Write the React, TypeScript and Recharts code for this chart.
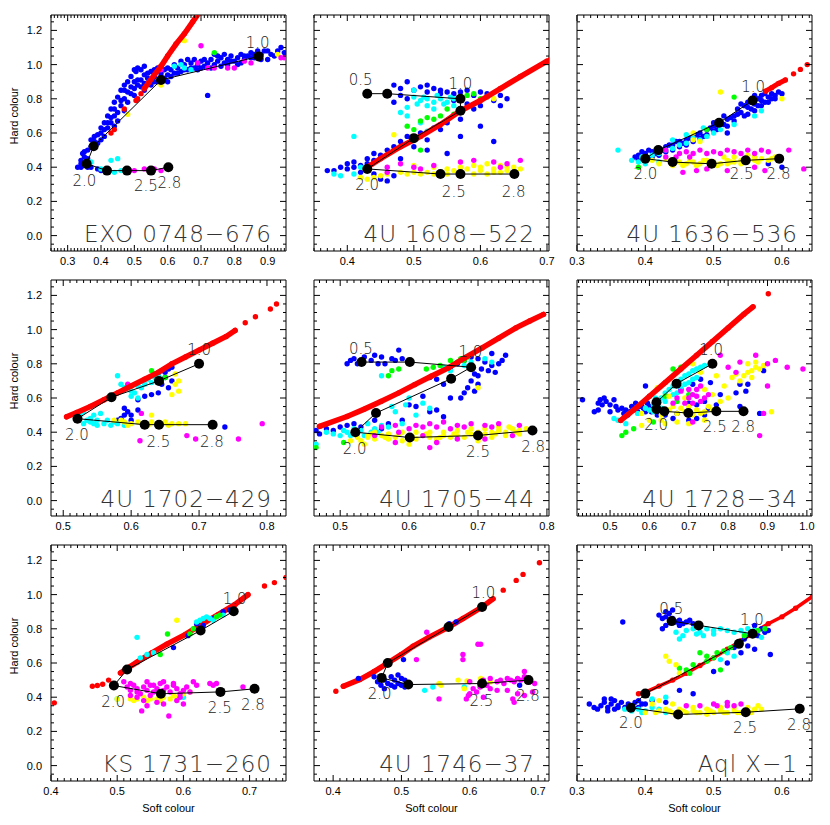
import React from 'react';
import { ScatterChart, Scatter, XAxis, YAxis, ReferenceArea } from 'recharts';

type Pt = { x: number; y: number; t?: string };
const pts = (a: number[][]): Pt[] => a.map(([x, y]) => ({ x, y }));
const tags = (a: [number, number, string][]): Pt[] => a.map(([x, y, t]) => ({ x, y, t }));

// ---- EXO 0748-676
const exoBlue = pts([[0.33,0.40],[0.34,0.40],[0.35,0.41],[0.36,0.40],[0.37,0.40],[0.34,0.44],[0.35,0.46],[0.36,0.45],[0.345,0.48],[0.36,0.50],[0.37,0.52],[0.38,0.55],[0.39,0.54],[0.40,0.56],[0.39,0.59],[0.40,0.60],[0.41,0.62],[0.42,0.63],[0.41,0.66],[0.43,0.66],[0.42,0.70],[0.44,0.70],[0.43,0.74],[0.45,0.72],[0.44,0.78],[0.46,0.76],[0.45,0.81],[0.47,0.80],[0.46,0.85],[0.48,0.84],[0.47,0.88],[0.49,0.87],[0.50,0.86],[0.48,0.90],[0.50,0.90],[0.51,0.88],[0.52,0.91],[0.50,0.97],[0.51,0.98],[0.52,0.97],[0.53,0.99],[0.55,0.88],[0.53,0.85],[0.54,0.92],[0.56,0.93],[0.57,0.90],[0.58,0.95],[0.59,0.92],[0.60,0.94],[0.61,0.97],[0.62,0.95],[0.63,0.98],[0.64,0.96],[0.65,1.00],[0.66,0.97],[0.67,1.01],[0.68,0.98],[0.69,1.00],[0.70,1.02],[0.71,0.99],[0.72,1.01],[0.73,1.03],[0.74,1.00],[0.75,1.02],[0.76,1.04],[0.77,1.01],[0.78,1.03],[0.79,1.05],[0.80,1.02],[0.81,1.04],[0.82,1.06],[0.83,1.03],[0.84,1.05],[0.85,1.07],[0.86,1.04],[0.88,1.06],[0.89,1.08],[0.91,1.06],[0.93,1.08],[0.94,1.10],[0.72,0.82],[0.60,0.90],[0.62,1.00],[0.66,1.03],[0.55,0.96],[0.57,0.98],[0.60,0.98],[0.68,1.03],[0.74,1.06],[0.78,1.00],[0.45,0.67],[0.41,0.58],[0.47,0.73],[0.39,0.39],[0.40,0.38],[0.36,0.43],[0.34,0.42],[0.53,0.94],[0.56,0.90],[0.64,1.02],[0.70,0.98],[0.76,0.99],[0.82,1.01],[0.87,1.08],[0.90,1.03],[0.54,0.95],[0.56,0.97],[0.58,0.93],[0.59,0.97],[0.61,0.93],[0.63,0.95],[0.65,0.97],[0.67,0.98],[0.69,0.97],[0.71,1.03],[0.73,0.98],[0.75,1.05],[0.77,1.06],[0.79,1.02],[0.81,1.00],[0.83,1.05],[0.85,1.04],[0.86,1.06],[0.88,1.03],[0.90,1.08],[0.92,1.05],[0.95,1.07],[0.47,0.85],[0.49,0.83],[0.51,0.91],[0.52,0.87],[0.53,0.89],[0.46,0.79],[0.44,0.74],[0.43,0.69],[0.42,0.66],[0.40,0.63],[0.38,0.58],[0.37,0.56],[0.35,0.49],[0.44,0.64],[0.48,0.78],[0.50,0.82],[0.49,0.93],[0.505,0.96]]);
const exoCyan = pts([[0.37,0.43],[0.40,0.39],[0.43,0.44],[0.45,0.45],[0.44,0.37],[0.46,0.38],[0.48,0.37],[0.62,0.99],[0.65,0.98],[0.67,0.97],[0.64,1.00]]);
const exoGreen = pts([[0.74,1.07]]);
const exoYellow = pts([[0.65,1.14],[0.58,0.88],[0.48,0.71],[0.93,1.06]]);
const exoMagenta = pts([[0.58,0.97],[0.70,1.11],[0.69,1.01],[0.72,0.98],[0.74,0.98],[0.78,0.98],[0.83,1.02],[0.85,1.01],[0.94,1.04],[0.95,1.04],[0.53,0.39],[0.56,0.39],[0.58,0.38],[0.50,0.38],[0.80,0.98],[0.87,1.05]]);
const exoRedTrack = pts([[0.53,0.86],[0.545,0.90],[0.56,0.94],[0.58,0.99],[0.60,1.05],[0.625,1.12],[0.65,1.18],[0.675,1.25],[0.70,1.32]]);
const exoRedDots = pts([[0.505,0.79],[0.51,0.80],[0.47,0.74],[0.44,0.62],[0.43,0.60],[0.52,0.83]]);
const exoTrack = pts([[0.873,1.048],[0.58,0.91],[0.378,0.523],[0.357,0.42],[0.418,0.38],[0.478,0.38],[0.55,0.38],[0.602,0.40]]);
const exoTags = tags([[0.87,1.13,'1.0'],[0.35,0.32,'2.0'],[0.535,0.29,'2.5'],[0.605,0.31,'2.8']]);

// ---- 4U 1608-522
const u1608Blue = pts([[0.47,0.88],[0.48,0.86],[0.49,0.90],[0.50,0.85],[0.51,0.87],[0.52,0.84],[0.53,0.86],[0.54,0.85],[0.48,0.82],[0.49,0.80],[0.47,0.78],[0.55,0.84],[0.56,0.83],[0.58,0.85],[0.59,0.82],[0.60,0.84],[0.61,0.81],[0.62,0.79],[0.63,0.76],[0.56,0.79],[0.58,0.77],[0.59,0.74],[0.60,0.76],[0.57,0.68],[0.55,0.66],[0.53,0.63],[0.51,0.60],[0.49,0.58],[0.48,0.55],[0.47,0.52],[0.46,0.50],[0.45,0.47],[0.44,0.44],[0.43,0.42],[0.42,0.41],[0.41,0.40],[0.40,0.39],[0.39,0.40],[0.38,0.38],[0.37,0.38],[0.42,0.37],[0.44,0.36],[0.45,0.33],[0.46,0.32],[0.47,0.35],[0.48,0.45],[0.50,0.52],[0.52,0.56],[0.54,0.62],[0.62,0.55],[0.60,0.64],[0.57,0.58],[0.55,0.48],[0.52,0.50],[0.44,0.48],[0.43,0.45],[0.41,0.43],[0.40,0.42],[0.63,0.82],[0.64,0.80],[0.52,0.88],[0.54,0.83],[0.57,0.84],[0.61,0.83]]);
const u1608Cyan = pts([[0.50,0.81],[0.51,0.79],[0.52,0.80],[0.53,0.78],[0.54,0.80],[0.55,0.78],[0.52,0.76],[0.53,0.74],[0.49,0.75],[0.48,0.72],[0.49,0.70],[0.545,0.77],[0.56,0.76],[0.51,0.66],[0.52,0.61],[0.41,0.58],[0.39,0.35],[0.38,0.36],[0.41,0.36],[0.43,0.38],[0.42,0.40],[0.56,0.80],[0.50,0.85],[0.505,0.77],[0.515,0.81],[0.535,0.82],[0.555,0.81]]);
const u1608Green = pts([[0.55,0.74],[0.56,0.71],[0.54,0.70],[0.53,0.68],[0.51,0.67],[0.52,0.69],[0.49,0.64],[0.50,0.62],[0.58,0.82],[0.59,0.83],[0.60,0.80],[0.51,0.50]]);
const u1608Yellow = pts([[0.42,0.34],[0.43,0.33],[0.44,0.34],[0.45,0.35],[0.46,0.36],[0.48,0.37],[0.50,0.37],[0.52,0.37],[0.54,0.37],[0.56,0.38],[0.58,0.39],[0.60,0.38],[0.62,0.39],[0.64,0.38],[0.66,0.39],[0.59,0.41],[0.61,0.42],[0.63,0.41],[0.65,0.40],[0.47,0.59],[0.50,0.41],[0.53,0.40],[0.55,0.39],[0.57,0.37],[0.59,0.36],[0.61,0.36],[0.63,0.37],[0.61,0.81],[0.62,0.80],[0.57,0.81],[0.49,0.36],[0.51,0.36],[0.53,0.36],[0.55,0.36],[0.57,0.40],[0.60,0.40],[0.62,0.37],[0.64,0.40]]);
const u1608Magenta = pts([[0.46,0.40],[0.48,0.42],[0.50,0.40],[0.51,0.39],[0.53,0.41],[0.57,0.43],[0.59,0.44],[0.62,0.43],[0.64,0.42],[0.66,0.44],[0.63,0.40],[0.46,0.37]]);
const u1608RedTrack = pts([[0.43,0.40],[0.45,0.45],[0.48,0.52],[0.51,0.58],[0.54,0.65],[0.57,0.73],[0.60,0.79],[0.63,0.86],[0.66,0.93],[0.70,1.02]]);
const u1608RedDots = pts([[0.705,1.03]]);
const u1608Track = pts([[0.43,0.83],[0.46,0.83],[0.57,0.80],[0.57,0.73],[0.50,0.57],[0.43,0.39],[0.54,0.36],[0.57,0.36],[0.651,0.36]]);
const u1608Tags = tags([[0.42,0.91,'0.5'],[0.57,0.89,'1.0'],[0.43,0.30,'2.0'],[0.56,0.26,'2.5'],[0.65,0.26,'2.8']]);

// ---- 4U 1636-536
const u1636Blue = pts([[0.385,0.46],[0.39,0.47],[0.40,0.48],[0.41,0.49],[0.42,0.51],[0.43,0.52],[0.44,0.53],[0.45,0.55],[0.46,0.56],[0.47,0.58],[0.48,0.60],[0.49,0.62],[0.50,0.64],[0.51,0.66],[0.52,0.68],[0.53,0.70],[0.54,0.72],[0.55,0.75],[0.56,0.77],[0.57,0.79],[0.58,0.81],[0.575,0.83],[0.565,0.80],[0.555,0.78],[0.545,0.76],[0.53,0.67],[0.52,0.64],[0.515,0.70],[0.50,0.61],[0.535,0.74],[0.55,0.71],[0.56,0.73],[0.57,0.76],[0.58,0.78],[0.59,0.80],[0.585,0.83],[0.56,0.82],[0.54,0.77],[0.43,0.49],[0.45,0.52],[0.47,0.55],[0.42,0.47],[0.40,0.45],[0.39,0.44],[0.41,0.46],[0.44,0.50],[0.46,0.53],[0.48,0.57],[0.50,0.66],[0.49,0.59],[0.52,0.60],[0.58,0.42],[0.60,0.40],[0.395,0.49],[0.405,0.50],[0.415,0.48],[0.425,0.50],[0.435,0.53],[0.445,0.55],[0.455,0.54],[0.465,0.57],[0.475,0.59],[0.485,0.58],[0.495,0.63],[0.505,0.62],[0.515,0.65],[0.525,0.69],[0.535,0.71],[0.545,0.70],[0.555,0.74],[0.565,0.76],[0.575,0.78],[0.585,0.80],[0.59,0.82],[0.60,0.83],[0.595,0.84],[0.57,0.82],[0.55,0.78]]);
const u1636Cyan = pts([[0.36,0.50],[0.39,0.43],[0.40,0.42],[0.41,0.47],[0.42,0.48],[0.43,0.50],[0.44,0.51],[0.45,0.53],[0.46,0.54],[0.47,0.57],[0.48,0.56],[0.49,0.58],[0.50,0.60],[0.51,0.62],[0.44,0.56],[0.46,0.59],[0.485,0.63],[0.53,0.65],[0.56,0.70],[0.57,0.73],[0.38,0.44],[0.395,0.46],[0.42,0.43],[0.44,0.44]]);
const u1636Green = pts([[0.53,0.81],[0.49,0.62],[0.39,0.40]]);
const u1636Yellow = pts([[0.41,0.44],[0.42,0.42],[0.43,0.45],[0.44,0.44],[0.45,0.43],[0.46,0.42],[0.47,0.43],[0.48,0.42],[0.49,0.44],[0.50,0.43],[0.51,0.42],[0.52,0.44],[0.53,0.43],[0.54,0.44],[0.55,0.45],[0.56,0.44],[0.57,0.45],[0.58,0.44],[0.455,0.41],[0.475,0.41],[0.505,0.41],[0.53,0.46],[0.55,0.47],[0.47,0.60],[0.515,0.46],[0.47,0.56],[0.51,0.84],[0.60,0.80],[0.48,0.55],[0.44,0.41],[0.52,0.42],[0.54,0.42],[0.56,0.46],[0.585,0.45],[0.59,0.46],[0.595,0.44],[0.565,0.43],[0.545,0.43],[0.525,0.43],[0.495,0.42],[0.485,0.44],[0.465,0.44]]);
const u1636Magenta = pts([[0.43,0.50],[0.45,0.48],[0.46,0.49],[0.47,0.48],[0.48,0.50],[0.49,0.48],[0.50,0.49],[0.51,0.48],[0.52,0.50],[0.53,0.49],[0.54,0.48],[0.55,0.50],[0.56,0.48],[0.57,0.50],[0.58,0.49],[0.61,0.50],[0.455,0.37],[0.475,0.38],[0.49,0.39],[0.445,0.46],[0.52,0.38],[0.56,0.40],[0.575,0.38],[0.632,0.39],[0.43,0.46],[0.465,0.46]]);
const u1636RedTrack = pts([[0.576,0.845],[0.585,0.865],[0.595,0.89],[0.605,0.91]]);
const u1636RedDots = pts([[0.617,0.946],[0.627,0.972],[0.637,1.00]]);
const u1636Track = pts([[0.557,0.79],[0.508,0.66],[0.419,0.50],[0.40,0.45],[0.44,0.43],[0.497,0.42],[0.547,0.44],[0.596,0.45]]);
const u1636Tags = tags([[0.558,0.87,'1.0'],[0.40,0.36,'2.0'],[0.541,0.36,'2.5'],[0.595,0.36,'2.8']]);

// ---- 4U 1702-429
const u1702Blue = pts([[0.59,0.54],[0.595,0.52],[0.60,0.50],[0.61,0.53],[0.62,0.61],[0.63,0.62],[0.61,0.59],[0.64,0.74],[0.645,0.76],[0.65,0.75],[0.655,0.77],[0.66,0.78],[0.65,0.72],[0.66,0.70],[0.645,0.68],[0.655,0.66],[0.64,0.63],[0.59,0.50],[0.585,0.48],[0.58,0.47],[0.60,0.47],[0.738,0.43]]);
const u1702Cyan = pts([[0.525,0.50],[0.53,0.52],[0.535,0.47],[0.54,0.46],[0.545,0.45],[0.55,0.44],[0.56,0.45],[0.57,0.44],[0.58,0.45],[0.59,0.44],[0.53,0.45],[0.54,0.48],[0.55,0.47],[0.565,0.47],[0.575,0.46],[0.58,0.73],[0.585,0.68],[0.59,0.66],[0.60,0.64],[0.605,0.63],[0.61,0.67],[0.615,0.66],[0.62,0.68],[0.63,0.69],[0.625,0.71],[0.60,0.61],[0.61,0.60],[0.635,0.72],[0.64,0.73],[0.545,0.50],[0.555,0.51]]);
const u1702Green = pts([[0.63,0.76],[0.635,0.74],[0.65,0.72]]);
const u1702Yellow = pts([[0.585,0.47],[0.59,0.46],[0.60,0.45],[0.61,0.46],[0.62,0.45],[0.63,0.46],[0.64,0.45],[0.65,0.46],[0.66,0.45],[0.67,0.45],[0.68,0.45],[0.595,0.44],[0.625,0.44],[0.655,0.44],[0.63,0.50],[0.66,0.62],[0.67,0.64],[0.665,0.68],[0.67,0.70],[0.665,0.74],[0.575,0.47]]);
const u1702Magenta = pts([[0.595,0.68],[0.615,0.51],[0.613,0.35],[0.682,0.38],[0.695,0.36],[0.758,0.36],[0.793,0.45]]);
const u1702RedTrack = pts([[0.505,0.49],[0.52,0.515],[0.54,0.55],[0.56,0.59],[0.58,0.63],[0.60,0.67],[0.62,0.71],[0.64,0.75],[0.66,0.80],[0.68,0.84],[0.70,0.88],[0.72,0.92],[0.74,0.96],[0.753,0.995]]);
const u1702RedDots = pts([[0.768,1.04],[0.783,1.075],[0.805,1.12],[0.814,1.15]]);
const u1702Track = pts([[0.70,0.80],[0.641,0.70],[0.571,0.604],[0.521,0.479],[0.62,0.444],[0.641,0.444],[0.72,0.444]]);
const u1702Tags = tags([[0.70,0.883,'1.0'],[0.52,0.385,'2.0'],[0.64,0.346,'2.5'],[0.719,0.346,'2.8']]);

// ---- 4U 1705-44
const u1705Blue = pts([[0.51,0.80],[0.515,0.82],[0.52,0.83],[0.525,0.80],[0.535,0.84],[0.545,0.82],[0.55,0.85],[0.555,0.80],[0.56,0.84],[0.565,0.80],[0.575,0.83],[0.58,0.82],[0.585,0.88],[0.59,0.83],[0.67,0.80],[0.68,0.82],[0.69,0.84],[0.70,0.83],[0.71,0.81],[0.72,0.79],[0.73,0.80],[0.74,0.85],[0.715,0.76],[0.725,0.75],[0.705,0.77],[0.695,0.74],[0.69,0.70],[0.70,0.68],[0.685,0.66],[0.68,0.63],[0.695,0.64],[0.66,0.60],[0.675,0.60],[0.65,0.68],[0.64,0.71],[0.63,0.72],[0.62,0.61],[0.60,0.56],[0.61,0.55],[0.63,0.52],[0.64,0.53],[0.65,0.49],[0.59,0.47],[0.57,0.45],[0.52,0.45],[0.51,0.44],[0.50,0.43],[0.49,0.41],[0.48,0.42],[0.465,0.41],[0.47,0.39],[0.53,0.43],[0.55,0.47],[0.56,0.42],[0.66,0.78],[0.70,0.73],[0.72,0.86],[0.735,0.82]]);
const u1705Cyan = pts([[0.49,0.39],[0.50,0.38],[0.505,0.41],[0.51,0.40],[0.515,0.38],[0.52,0.42],[0.525,0.39],[0.53,0.41],[0.535,0.38],[0.545,0.40],[0.55,0.42],[0.555,0.40],[0.56,0.44],[0.57,0.43],[0.59,0.45],[0.61,0.50],[0.63,0.54],[0.62,0.57],[0.60,0.60],[0.595,0.56],[0.575,0.55],[0.56,0.73],[0.65,0.78],[0.66,0.76],[0.68,0.79],[0.69,0.81],[0.71,0.83],[0.72,0.81],[0.465,0.33],[0.48,0.40],[0.54,0.45],[0.58,0.52]]);
const u1705Green = pts([[0.57,0.73],[0.575,0.76],[0.585,0.77],[0.625,0.77],[0.635,0.78],[0.675,0.83],[0.685,0.84],[0.67,0.81],[0.68,0.82],[0.505,0.34],[0.465,0.31],[0.645,0.79],[0.66,0.82]]);
const u1705Yellow = pts([[0.525,0.37],[0.53,0.35],[0.54,0.38],[0.55,0.36],[0.56,0.38],[0.57,0.36],[0.58,0.37],[0.59,0.35],[0.60,0.38],[0.61,0.36],[0.62,0.38],[0.63,0.37],[0.64,0.36],[0.65,0.38],[0.66,0.37],[0.67,0.38],[0.68,0.37],[0.69,0.39],[0.70,0.40],[0.71,0.39],[0.72,0.40],[0.73,0.41],[0.74,0.40],[0.75,0.42],[0.76,0.41],[0.77,0.42],[0.55,0.40],[0.57,0.39],[0.59,0.40],[0.61,0.40],[0.63,0.40],[0.65,0.40],[0.67,0.41],[0.69,0.42],[0.71,0.42],[0.73,0.43],[0.745,0.43],[0.515,0.35],[0.535,0.33],[0.70,0.35],[0.72,0.37],[0.74,0.38],[0.76,0.39],[0.70,0.66],[0.54,0.37],[0.60,0.33],[0.545,0.39],[0.565,0.37],[0.585,0.39],[0.605,0.37],[0.625,0.39],[0.645,0.37],[0.665,0.39],[0.685,0.40],[0.705,0.38],[0.725,0.39],[0.755,0.40]]);
const u1705Magenta = pts([[0.56,0.43],[0.58,0.44],[0.60,0.42],[0.61,0.44],[0.62,0.43],[0.63,0.45],[0.64,0.43],[0.66,0.42],[0.67,0.44],[0.68,0.43],[0.69,0.45],[0.71,0.44],[0.72,0.43],[0.73,0.45],[0.65,0.46],[0.62,0.38],[0.64,0.34],[0.67,0.36],[0.71,0.36],[0.75,0.38],[0.76,0.44],[0.58,0.34],[0.63,0.31],[0.55,0.38],[0.585,0.40]]);
const u1705RedTrack = pts([[0.47,0.434],[0.51,0.492],[0.535,0.535],[0.559,0.58],[0.585,0.63],[0.608,0.678],[0.632,0.727],[0.657,0.776],[0.68,0.833],[0.706,0.893],[0.73,0.95],[0.755,1.01],[0.775,1.05],[0.795,1.089]]);
const u1705RedDots = pts([[0.809,1.13]]);
const u1705Track = pts([[0.531,0.81],[0.601,0.81],[0.69,0.78],[0.661,0.713],[0.552,0.512],[0.522,0.40],[0.601,0.369],[0.70,0.381],[0.779,0.41]]);
const u1705Tags = tags([[0.53,0.889,'0.5'],[0.689,0.874,'1.0'],[0.521,0.303,'2.0'],[0.70,0.287,'2.5'],[0.78,0.317,'2.8']]);

// ---- 4U 1728-34
const u1728Blue = pts([[0.43,0.59],[0.47,0.57],[0.475,0.59],[0.48,0.56],[0.485,0.60],[0.49,0.58],[0.50,0.56],[0.51,0.59],[0.515,0.55],[0.52,0.53],[0.53,0.54],[0.535,0.51],[0.54,0.53],[0.545,0.50],[0.55,0.52],[0.555,0.55],[0.56,0.54],[0.565,0.57],[0.57,0.52],[0.575,0.55],[0.58,0.56],[0.585,0.54],[0.59,0.52],[0.595,0.57],[0.60,0.55],[0.59,0.67],[0.46,0.52],[0.47,0.53],[0.50,0.52],[0.605,0.52],[0.62,0.50],[0.67,0.51],[0.66,0.48],[0.70,0.47],[0.72,0.48],[0.74,0.50],[0.70,0.57],[0.72,0.56],[0.74,0.58],[0.75,0.54],[0.77,0.56],[0.78,0.62],[0.82,0.63],[0.83,0.68],[0.845,0.64],[0.85,0.68],[0.89,0.76],[0.88,0.51],[0.83,0.55],[0.68,0.65],[0.71,0.68],[0.73,0.71],[0.755,0.69],[0.64,0.50]]);
const u1728Cyan = pts([[0.51,0.48],[0.52,0.47],[0.54,0.45],[0.57,0.51],[0.60,0.53],[0.61,0.56],[0.62,0.58],[0.63,0.60],[0.64,0.63],[0.65,0.65],[0.66,0.67],[0.67,0.69],[0.68,0.71],[0.69,0.73],[0.70,0.74],[0.71,0.76],[0.72,0.77],[0.73,0.78],[0.74,0.79],[0.64,0.58],[0.66,0.62],[0.68,0.66],[0.70,0.69],[0.72,0.72],[0.62,0.55],[0.61,0.52],[0.63,0.54],[0.67,0.63],[0.69,0.68],[0.71,0.71],[0.615,0.60],[0.59,0.54]]);
const u1728Green = pts([[0.53,0.38],[0.54,0.40],[0.56,0.42],[0.66,0.77],[0.68,0.78],[0.67,0.58],[0.64,0.61],[0.70,0.62],[0.61,0.46]]);
const u1728Yellow = pts([[0.58,0.44],[0.60,0.47],[0.63,0.50],[0.65,0.53],[0.66,0.55],[0.67,0.51],[0.68,0.54],[0.69,0.52],[0.70,0.55],[0.71,0.50],[0.72,0.53],[0.73,0.51],[0.74,0.52],[0.75,0.55],[0.76,0.53],[0.64,0.45],[0.67,0.46],[0.74,0.47],[0.78,0.58],[0.80,0.60],[0.79,0.67],[0.81,0.72],[0.82,0.74],[0.83,0.70],[0.84,0.73],[0.85,0.75],[0.86,0.76],[0.87,0.78],[0.88,0.77],[0.85,0.80],[0.87,0.81],[0.89,0.79],[0.86,0.72],[0.76,0.62],[0.74,0.65],[0.91,0.52],[0.73,0.75],[0.71,0.80],[0.77,0.73],[0.62,0.66],[0.65,0.61],[0.69,0.60],[0.58,0.51],[0.63,0.47],[0.70,0.45]]);
const u1728Magenta = pts([[0.78,0.85],[0.68,0.64],[0.70,0.60],[0.71,0.62],[0.72,0.61],[0.73,0.58],[0.74,0.60],[0.75,0.62],[0.71,0.57],[0.72,0.65],[0.73,0.67],[0.69,0.57],[0.70,0.65],[0.66,0.57],[0.67,0.60],[0.83,0.81],[0.87,0.85],[0.90,0.80],[0.92,0.82],[0.95,0.78],[0.99,0.77],[0.90,0.67],[0.88,0.38],[0.89,0.51],[0.71,0.46],[0.70,0.52],[0.80,0.78],[0.82,0.75]]);
const u1728RedTrack = pts([[0.527,0.469],[0.56,0.53],[0.60,0.61],[0.64,0.69],[0.68,0.77],[0.72,0.85],[0.76,0.93],[0.80,1.01],[0.84,1.09],[0.863,1.133]]);
const u1728RedDots = pts([[0.902,1.21]]);
const u1728Track = pts([[0.76,0.80],[0.669,0.684],[0.618,0.575],[0.618,0.535],[0.638,0.522],[0.699,0.512],[0.77,0.522],[0.839,0.522]]);
const u1728Tags = tags([[0.757,0.883,'1.0'],[0.617,0.444,'2.0'],[0.766,0.434,'2.5'],[0.838,0.434,'2.8']]);

// ---- KS 1731-260
const ks1731Blue = pts([[0.585,0.69],[0.607,0.76],[0.62,0.83],[0.63,0.82],[0.645,0.86],[0.66,0.90],[0.67,0.91]]);
const ks1731Cyan = pts([[0.53,0.75],[0.535,0.63],[0.545,0.65],[0.62,0.84],[0.625,0.85],[0.63,0.86],[0.635,0.87],[0.64,0.86],[0.645,0.85],[0.65,0.87],[0.66,0.88],[0.555,0.66],[0.60,0.40],[0.50,0.39]]);
const ks1731Green = pts([[0.576,0.77],[0.565,0.65],[0.61,0.77],[0.615,0.80],[0.65,0.87],[0.655,0.88]]);
const ks1731Yellow = pts([[0.59,0.85],[0.52,0.39],[0.53,0.39],[0.54,0.40],[0.55,0.39],[0.56,0.39],[0.57,0.40],[0.58,0.39],[0.59,0.40],[0.60,0.42],[0.61,0.43],[0.525,0.38],[0.545,0.38],[0.565,0.38],[0.585,0.41],[0.50,0.39]]);
const ks1731Magenta = pts([[0.51,0.49],[0.515,0.46],[0.52,0.44],[0.525,0.47],[0.53,0.45],[0.535,0.42],[0.54,0.46],[0.545,0.44],[0.55,0.47],[0.555,0.43],[0.56,0.45],[0.565,0.48],[0.57,0.44],[0.575,0.46],[0.58,0.43],[0.585,0.47],[0.59,0.45],[0.595,0.42],[0.60,0.44],[0.605,0.46],[0.61,0.43],[0.615,0.49],[0.52,0.41],[0.53,0.40],[0.54,0.38],[0.545,0.35],[0.537,0.32],[0.55,0.41],[0.56,0.37],[0.57,0.36],[0.578,0.29],[0.59,0.38],[0.60,0.36],[0.62,0.47],[0.64,0.48],[0.645,0.47],[0.65,0.48],[0.69,0.46],[0.52,0.48],[0.545,0.49],[0.57,0.49],[0.585,0.48],[0.595,0.40],[0.53,0.43],[0.555,0.47],[0.565,0.42]]);
const ks1731RedTrack = pts([[0.505,0.542],[0.5125,0.562],[0.53,0.605],[0.5525,0.66],[0.575,0.71],[0.6025,0.766],[0.625,0.82],[0.6525,0.883],[0.6775,0.941],[0.6975,0.999]]);
const ks1731RedDots = pts([[0.405,0.367],[0.4625,0.464],[0.47,0.468],[0.478,0.476],[0.487,0.50],[0.7225,1.05],[0.7375,1.07],[0.755,1.10]]);
const ks1731Track = pts([[0.676,0.903],[0.626,0.79],[0.515,0.562],[0.495,0.468],[0.566,0.42],[0.656,0.431],[0.7075,0.449]]);
const ks1731Tags = tags([[0.6775,0.976,'1.0'],[0.494,0.377,'2.0'],[0.655,0.338,'2.5'],[0.705,0.357,'2.8']]);

// ---- 4U 1746-37
const u1746Blue = pts([[0.437,0.51],[0.46,0.52],[0.465,0.49],[0.47,0.47],[0.475,0.50],[0.48,0.48],[0.485,0.52],[0.49,0.50],[0.495,0.53],[0.50,0.51],[0.505,0.50],[0.49,0.46],[0.495,0.48],[0.50,0.47],[0.505,0.46],[0.485,0.47],[0.475,0.45],[0.51,0.48],[0.503,0.62],[0.57,0.83],[0.58,0.84],[0.673,0.47]]);
const u1746Cyan = pts([[0.534,0.44],[0.546,0.46],[0.592,0.46]]);
const u1746Green = pts([]);
const u1746Yellow = pts([[0.555,0.48],[0.558,0.47],[0.583,0.50],[0.596,0.495],[0.616,0.51],[0.63,0.49],[0.592,0.45]]);
const u1746Magenta = pts([[0.537,0.78],[0.522,0.62],[0.555,0.39],[0.595,0.39],[0.60,0.42],[0.605,0.45],[0.61,0.43],[0.615,0.46],[0.60,0.49],[0.62,0.50],[0.625,0.47],[0.63,0.51],[0.64,0.49],[0.645,0.50],[0.65,0.48],[0.655,0.51],[0.66,0.50],[0.665,0.49],[0.67,0.51],[0.675,0.50],[0.68,0.52],[0.685,0.49],[0.695,0.48],[0.692,0.43],[0.68,0.55],[0.612,0.71],[0.616,0.71],[0.59,0.62],[0.59,0.65],[0.655,0.44],[0.663,0.39],[0.67,0.42],[0.68,0.41],[0.665,0.37],[0.598,0.41],[0.63,0.45],[0.64,0.44],[0.62,0.40]]);
const u1746RedTrack = pts([[0.415,0.464],[0.439,0.503],[0.46,0.55],[0.48,0.60],[0.50,0.65],[0.517,0.698],[0.54,0.75],[0.569,0.81],[0.59,0.86],[0.618,0.927],[0.634,0.975]]);
const u1746RedDots = pts([[0.404,0.435],[0.649,1.026],[0.668,1.083],[0.678,1.118],[0.702,1.186]]);
const u1746Track = pts([[0.618,0.927],[0.569,0.81],[0.48,0.60],[0.471,0.513],[0.51,0.474],[0.618,0.48],[0.686,0.50]]);
const u1746Tags = tags([[0.62,1.01,'1.0'],[0.468,0.421,'2.0'],[0.617,0.382,'2.5'],[0.685,0.412,'2.8']]);

// ---- Aql X-1
const aqlBlue = pts([[0.318,0.36],[0.33,0.33],[0.335,0.35],[0.34,0.37],[0.345,0.34],[0.35,0.36],[0.355,0.38],[0.36,0.35],[0.365,0.37],[0.37,0.34],[0.375,0.36],[0.38,0.35],[0.385,0.37],[0.39,0.34],[0.395,0.36],[0.34,0.39],[0.35,0.39],[0.36,0.34],[0.325,0.34],[0.345,0.32],[0.355,0.33],[0.39,0.38],[0.40,0.36],[0.41,0.38],[0.43,0.37],[0.42,0.88],[0.425,0.86],[0.43,0.87],[0.435,0.89],[0.44,0.86],[0.445,0.84],[0.45,0.85],[0.455,0.83],[0.46,0.84],[0.465,0.85],[0.47,0.83],[0.475,0.82],[0.43,0.82],[0.425,0.80],[0.45,0.82],[0.367,0.84],[0.43,0.90],[0.44,0.91],[0.56,0.82],[0.57,0.80],[0.58,0.79],[0.565,0.76],[0.545,0.74],[0.55,0.70],[0.56,0.68],[0.583,0.65],[0.54,0.66],[0.53,0.69],[0.50,0.55],[0.52,0.60],[0.45,0.44],[0.47,0.42],[0.575,0.78],[0.56,0.78]]);
const aqlCyan = pts([[0.46,0.79],[0.47,0.80],[0.48,0.78],[0.49,0.80],[0.50,0.79],[0.51,0.80],[0.52,0.79],[0.53,0.78],[0.54,0.79],[0.55,0.80],[0.56,0.79],[0.475,0.77],[0.485,0.76],[0.445,0.78],[0.455,0.76],[0.45,0.74],[0.53,0.64],[0.52,0.66],[0.51,0.62],[0.38,0.32],[0.39,0.33],[0.40,0.32],[0.41,0.34],[0.42,0.33],[0.37,0.33],[0.395,0.31],[0.43,0.31],[0.41,0.39],[0.43,0.40],[0.545,0.77],[0.57,0.75],[0.50,0.77]]);
const aqlGreen = pts([[0.48,0.66],[0.49,0.64],[0.50,0.63],[0.505,0.66],[0.515,0.67],[0.525,0.69],[0.535,0.72],[0.545,0.76],[0.555,0.78],[0.565,0.79],[0.575,0.80],[0.51,0.56],[0.465,0.54],[0.47,0.59],[0.49,0.61],[0.45,0.57],[0.46,0.56]]);
const aqlYellow = pts([[0.40,0.31],[0.42,0.32],[0.43,0.33],[0.44,0.31],[0.45,0.30],[0.46,0.31],[0.47,0.32],[0.48,0.31],[0.49,0.30],[0.50,0.31],[0.51,0.32],[0.52,0.31],[0.53,0.32],[0.54,0.31],[0.55,0.32],[0.56,0.33],[0.57,0.33],[0.45,0.33],[0.47,0.34],[0.49,0.33],[0.51,0.34],[0.53,0.34],[0.55,0.34],[0.565,0.35],[0.43,0.64],[0.435,0.61],[0.445,0.59],[0.44,0.36],[0.41,0.36],[0.45,0.54],[0.42,0.38],[0.415,0.31],[0.435,0.32],[0.455,0.32],[0.475,0.31],[0.495,0.32],[0.515,0.31],[0.535,0.31],[0.555,0.31]]);
const aqlMagenta = pts([[0.48,0.35],[0.50,0.36],[0.505,0.35],[0.52,0.37],[0.53,0.35],[0.54,0.36],[0.46,0.35],[0.52,0.35]]);
const aqlRedTrack = pts([[0.39,0.42],[0.40,0.43],[0.42,0.465],[0.44,0.50],[0.46,0.54],[0.48,0.585],[0.50,0.63],[0.52,0.68],[0.54,0.73],[0.56,0.78],[0.58,0.83],[0.60,0.87],[0.62,0.92],[0.645,0.99]]);
const aqlRedDots = pts([]);
const aqlTrack = pts([[0.4385,0.845],[0.478,0.82],[0.557,0.771],[0.537,0.712],[0.40,0.421],[0.379,0.338],[0.448,0.299],[0.547,0.312],[0.626,0.332]]);
const aqlTags = tags([[0.438,0.917,'0.5'],[0.556,0.855,'1.0'],[0.379,0.25,'2.0'],[0.546,0.22,'2.5'],[0.625,0.24,'2.8']]);

const Y_DOMAIN: [number, number] = [-0.09, 1.29];
const PLOT_W = 235;
const PLOT_H = 236;
const COLS = [51, 314, 577];
const ROWS = [15, 280, 545];

const panels = [
  { name: 'EXO 0748\u2212676', col: 0, row: 0, xDomain: [0.25, 0.955], blue: exoBlue, cyan: exoCyan, green: exoGreen, yellow: exoYellow, magenta: exoMagenta, redTrack: exoRedTrack, redDots: exoRedDots, track: exoTrack, tags: exoTags, redBelow: false, redW: 5.5 },
  { name: '4U 1608\u2212522', col: 1, row: 0, xDomain: [0.35, 0.703], blue: u1608Blue, cyan: u1608Cyan, green: u1608Green, yellow: u1608Yellow, magenta: u1608Magenta, redTrack: u1608RedTrack, redDots: u1608RedDots, track: u1608Track, tags: u1608Tags, redBelow: false, redW: 5.5 },
  { name: '4U 1636\u2212536', col: 2, row: 0, xDomain: [0.3, 0.644], blue: u1636Blue, cyan: u1636Cyan, green: u1636Green, yellow: u1636Yellow, magenta: u1636Magenta, redTrack: u1636RedTrack, redDots: u1636RedDots, track: u1636Track, tags: u1636Tags, redBelow: false, redW: 5 },
  { name: '4U 1702\u2212429', col: 0, row: 1, xDomain: [0.482, 0.828], blue: u1702Blue, cyan: u1702Cyan, green: u1702Green, yellow: u1702Yellow, magenta: u1702Magenta, redTrack: u1702RedTrack, redDots: u1702RedDots, track: u1702Track, tags: u1702Tags, redBelow: false, redW: 5.5 },
  { name: '4U 1705\u221244', col: 1, row: 1, xDomain: [0.462, 0.803], blue: u1705Blue, cyan: u1705Cyan, green: u1705Green, yellow: u1705Yellow, magenta: u1705Magenta, redTrack: u1705RedTrack, redDots: u1705RedDots, track: u1705Track, tags: u1705Tags, redBelow: false, redW: 5.5 },
  { name: '4U 1728\u221234', col: 2, row: 1, xDomain: [0.416, 1.013], blue: u1728Blue, cyan: u1728Cyan, green: u1728Green, yellow: u1728Yellow, magenta: u1728Magenta, redTrack: u1728RedTrack, redDots: u1728RedDots, track: u1728Track, tags: u1728Tags, redBelow: false, redW: 5.5 },
  { name: 'KS 1731\u2212260', col: 0, row: 2, xDomain: [0.4, 0.755], blue: ks1731Blue, cyan: ks1731Cyan, green: ks1731Green, yellow: ks1731Yellow, magenta: ks1731Magenta, redTrack: ks1731RedTrack, redDots: ks1731RedDots, track: ks1731Track, tags: ks1731Tags, redBelow: true, redW: 5.5 },
  { name: '4U 1746\u221237', col: 1, row: 2, xDomain: [0.372, 0.716], blue: u1746Blue, cyan: u1746Cyan, green: u1746Green, yellow: u1746Yellow, magenta: u1746Magenta, redTrack: u1746RedTrack, redDots: u1746RedDots, track: u1746Track, tags: u1746Tags, redBelow: true, redW: 5.5 },
  { name: 'Aql X\u22121', col: 2, row: 2, xDomain: [0.3, 0.644], blue: aqlBlue, cyan: aqlCyan, green: aqlGreen, yellow: aqlYellow, magenta: aqlMagenta, redTrack: aqlRedTrack, redDots: aqlRedDots, track: aqlTrack, tags: aqlTags, redBelow: true, redW: 3.5 },
];

const TICK_FONT = "'Liberation Sans', Arial, Helvetica, sans-serif";
const LABEL_FONT = "'DejaVu Sans', sans-serif";

function stepTicks(lo: number, hi: number, step: number) {
  const out: number[] = [];
  for (let k = Math.ceil(lo / step - 1e-9); k * step <= hi + 1e-9; k++) out.push(+(k * step).toFixed(4));
  return out;
}
const isMult = (v: number, m: number) => Math.abs(v / m - Math.round(v / m)) < 1e-6;

function XTick(props: any) {
  const { x, y, payload } = props;
  const v = payload.value;
  const major = isMult(v, 0.1);
  const len = major ? 6 : 3;
  return (
    <g>
      <line x1={x} x2={x} y1={y} y2={y - len} stroke="#000" />
      <line x1={x} x2={x} y1={y - PLOT_H} y2={y - PLOT_H + len} stroke="#000" />
      {major && (
        <text x={x} y={y + 14} textAnchor="middle" fontSize={11} fontFamily={TICK_FONT} fill="#000">
          {v.toFixed(1)}
        </text>
      )}
    </g>
  );
}

function YTick(props: any) {
  const { x, y, payload, showLabel } = props;
  const v = payload.value;
  const major = isMult(v, 0.2);
  const len = major ? 6 : 3;
  return (
    <g>
      <line x1={x} x2={x + len} y1={y} y2={y} stroke="#000" />
      <line x1={x + PLOT_W} x2={x + PLOT_W - len} y1={y} y2={y} stroke="#000" />
      {major && showLabel && (
        <text x={x - 9} y={y + 4} textAnchor="end" fontSize={11} fontFamily={TICK_FONT} fill="#000">
          {Math.abs(v) < 1e-9 ? '0.0' : v.toFixed(1)}
        </text>
      )}
    </g>
  );
}

const dot = (color: string) => (p: any) => <circle cx={p.cx} cy={p.cy} r={2.7} fill={color} />;
const bigDot = (p: any) => <circle cx={p.cx} cy={p.cy} r={5} fill="#000" />;
const tagText = (p: any) => (
  <text x={p.cx} y={p.cy} dy="0.36em" textAnchor="middle" fontSize={15} fontFamily={LABEL_FONT} fontWeight={200} fill="#222">
    {p.payload.t}
  </text>
);

function Panel({ p }: { p: (typeof panels)[number] }) {
  const left = COLS[p.col];
  const top = ROWS[p.row];
  const xd = p.xDomain as [number, number];
  const xTicks = stepTicks(xd[0], xd[1], 0.01);
  const yTicks = stepTicks(Y_DOMAIN[0], Y_DOMAIN[1], 0.05);
  const firstCol = p.col === 0;
  const lastRow = p.row === 2;
  const red = [
    <Scatter
      key="redTrack"
      data={p.redTrack}
      shape={dot('#ff0000')}
      line={{ stroke: '#ff0000', strokeWidth: p.redW, strokeLinecap: 'round' }}
      lineJointType="linear"
      isAnimationActive={false}
    />,
    <Scatter key="redDots" data={p.redDots} shape={dot('#ff0000')} isAnimationActive={false} />,
  ];
  return (
    <div style={{ position: 'absolute', left: left - 45, top: top - 5 }}>
      <ScatterChart width={45 + PLOT_W + 10} height={5 + PLOT_H + 35} margin={{ top: 5, right: 10, bottom: 0, left: 0 }}>
        <XAxis
          type="number"
          dataKey="x"
          domain={xd}
          allowDataOverflow
          ticks={xTicks}
          interval={0}
          tickSize={0}
          tickMargin={0}
          axisLine={false}
          height={35}
          tick={(t: any) => <XTick {...t} />}
          label={
            lastRow
              ? {
                  content: (l: any) => {
                    const vb = l.viewBox;
                    return (
                      <text x={vb.x + vb.width / 2} y={vb.y + 31} textAnchor="middle" fontSize={11} fontFamily={TICK_FONT} fill="#000">
                        Soft colour
                      </text>
                    );
                  },
                }
              : undefined
          }
        />
        <YAxis
          type="number"
          dataKey="y"
          domain={Y_DOMAIN}
          allowDataOverflow
          ticks={yTicks}
          interval={0}
          tickSize={0}
          tickMargin={0}
          axisLine={false}
          width={45}
          tick={(t: any) => <YTick {...t} showLabel={firstCol} />}
          label={
            firstCol
              ? {
                  content: (l: any) => {
                    const vb = l.viewBox;
                    const cx = vb.x + 12;
                    const cy = vb.y + 101;
                    return (
                      <text x={cx} y={cy} transform={`rotate(-90 ${cx} ${cy})`} textAnchor="middle" fontSize={11} fontFamily={TICK_FONT} fill="#000">
                        Hard colour
                      </text>
                    );
                  },
                }
              : undefined
          }
        />
        <ReferenceArea
          x1={xd[0]}
          x2={xd[1]}
          y1={Y_DOMAIN[0]}
          y2={Y_DOMAIN[1]}
          fill="none"
          stroke="#000"
          strokeWidth={1}
          label={{
            content: (l: any) => {
              const vb = l.viewBox;
              return (
                <text x={vb.x + vb.width - 14} y={vb.y + vb.height - 9} textAnchor="end" fontSize={23} letterSpacing={1} fontFamily={LABEL_FONT} fontWeight={200} fill="#333">
                  {p.name}
                </text>
              );
            },
          }}
        />
        {p.redBelow && red}
        <Scatter data={p.blue} shape={dot('#0000ff')} isAnimationActive={false} />
        <Scatter data={p.cyan} shape={dot('#00ffff')} isAnimationActive={false} />
        <Scatter data={p.green} shape={dot('#00ff00')} isAnimationActive={false} />
        <Scatter data={p.yellow} shape={dot('#ffff00')} isAnimationActive={false} />
        <Scatter data={p.magenta} shape={dot('#ff00ff')} isAnimationActive={false} />
        {!p.redBelow && red}
        <Scatter
          data={p.track}
          shape={bigDot}
          line={{ stroke: '#000', strokeWidth: 1 }}
          lineJointType="linear"
          isAnimationActive={false}
        />
        <Scatter data={p.tags} shape={tagText} isAnimationActive={false} />
      </ScatterChart>
    </div>
  );
}

export default function App() {
  return (
    <div style={{ position: 'absolute', left: 0, top: 0, width: 830, height: 825, background: '#fff' }}>
      {panels.map((p) => (
        <Panel key={p.name} p={p} />
      ))}
    </div>
  );
}
